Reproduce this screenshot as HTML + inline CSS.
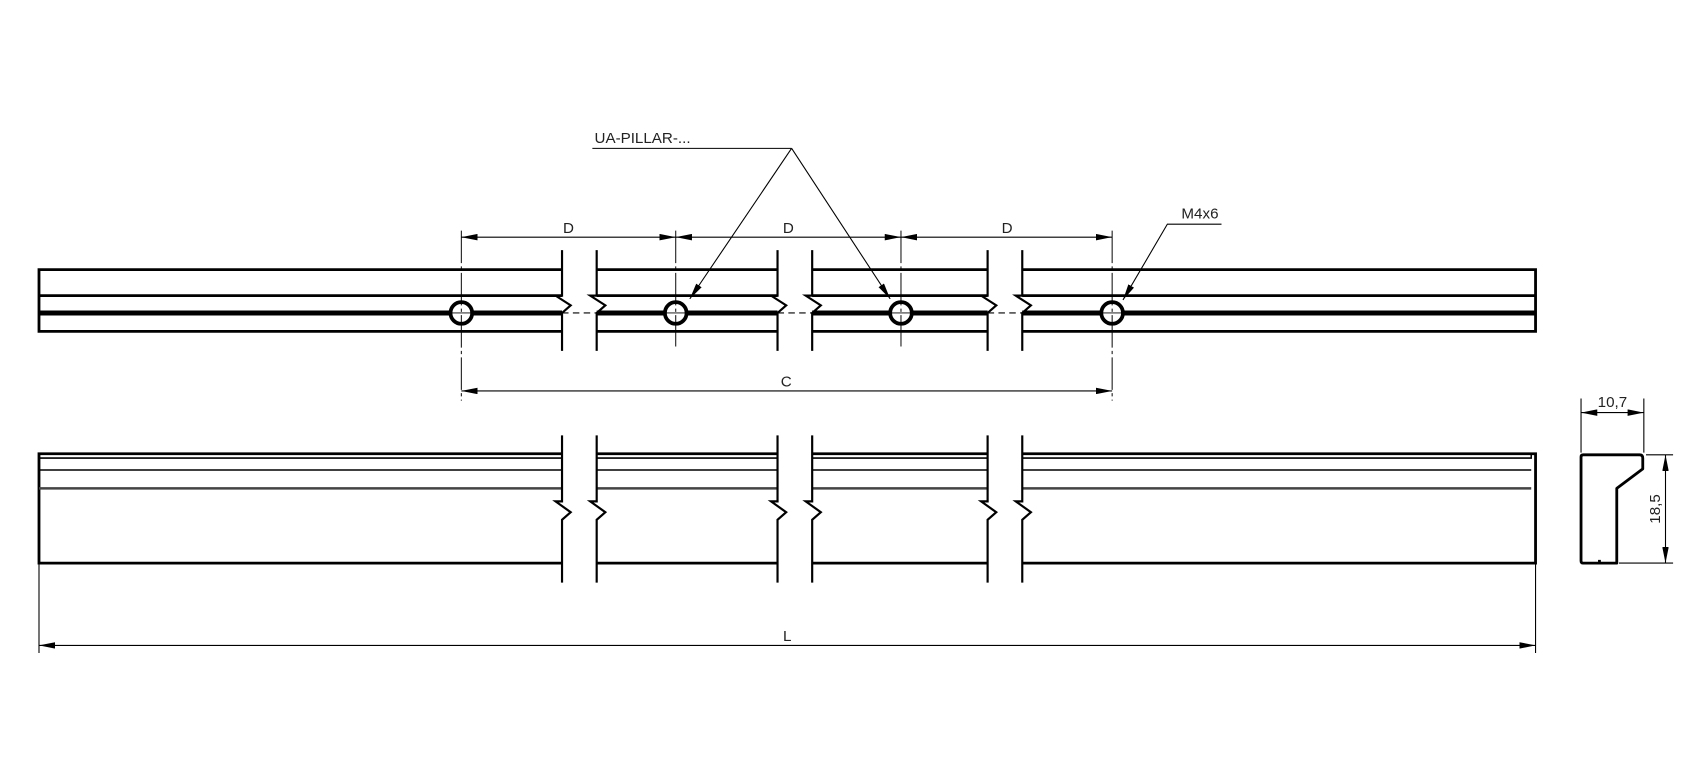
<!DOCTYPE html>
<html><head><meta charset="utf-8"><style>html,body{margin:0;padding:0;background:#fff}svg{display:block}</style></head>
<body>
<svg width="1698" height="776" viewBox="0 0 1568 716.6" xmlns="http://www.w3.org/2000/svg" font-family="Liberation Sans, sans-serif">
<defs>
<marker id="a" viewBox="0 0 10 4" refX="10" refY="2" markerWidth="15" markerHeight="6" markerUnits="userSpaceOnUse" orient="auto-start-reverse"><path d="M0,0 L10,2 L0,4z" fill="#000"/></marker>
</defs>
<g stroke="#000" fill="none">
<g stroke-width="2.6">
<path d="M519,249 H36 V306 H519 M36,273 H519"/>
<path d="M551,249 H718 M551,273 H718 M551,306 H718"/>
<path d="M750,249 H912 M750,273 H912 M750,306 H912"/>
<path d="M944,249 H1418 V306 H944 M944,273 H1418"/>
</g>
<g stroke-width="4.6">
<path d="M36,289 H519 M551,289 H718 M750,289 H912 M944,289 H1418"/>
</g>
<g stroke-width="2">
<path d="M519,231 V273 L513,273 L527,282 L519,289 V324"/>
<path d="M551,231 V273 L545,273 L559,282 L551,289 V324"/>
<path d="M718,231 V273 L712,273 L726,282 L718,289 V324"/>
<path d="M750,231 V273 L744,273 L758,282 L750,289 V324"/>
<path d="M912,231 V273 L906,273 L920,282 L912,289 V324"/>
<path d="M944,231 V273 L938,273 L952,282 L944,289 V324"/>
</g>
<path d="M519,289 H551 M718,289 H750 M912,289 H944" stroke-width="1" stroke-dasharray="6,4"/>
<g stroke-width="3.5" fill="#fff">
<circle cx="426" cy="289" r="10"/><circle cx="624" cy="289" r="10"/><circle cx="832" cy="289" r="10"/><circle cx="1027" cy="289" r="10"/>
</g>
<g stroke-width="0.9" stroke-dasharray="30,3,3,3">
<path d="M426,213 V370 M624,213 V320 M832,213 V320 M1027,213 V370"/>
</g>
<path d="M413,289 H439 M611,289 H637 M819,289 H845 M1014,289 H1040" stroke-width="0.8"/>
<g stroke-width="1">
<path d="M426,219 H624" marker-start="url(#a)" marker-end="url(#a)"/>
<path d="M624,219 H832" marker-start="url(#a)" marker-end="url(#a)"/>
<path d="M832,219 H1027" marker-start="url(#a)" marker-end="url(#a)"/>
<path d="M426,361 H1027" marker-start="url(#a)" marker-end="url(#a)"/>
<path d="M547,137 H731"/>
<path d="M731,137 L637,276" marker-end="url(#a)"/>
<path d="M731,137 L822,276" marker-end="url(#a)"/>
<path d="M1128,207 H1078 L1037,277" marker-end="url(#a)"/>
</g>
<g stroke-width="2.6">
<path d="M519,419 H36 V520 H519 M551,419 H718 M551,520 H718 M750,419 H912 M750,520 H912 M944,419 H1418 V520 H944"/>
</g>
<g stroke-width="1.4">
<path d="M36,423 H519 M36,434 H519 M551,423 H718 M551,434 H718 M750,423 H912 M750,434 H912 M944,423 H1414 V419 M944,434 H1414"/>
</g>
<path d="M36,451 H519 M551,451 H718 M750,451 H912 M944,451 H1414" stroke-width="2.4" stroke="#444"/>
<g stroke-width="2">
<path d="M519,402 V463 L513,463 L527,473 L519,480 V538"/>
<path d="M551,402 V463 L545,463 L559,473 L551,480 V538"/>
<path d="M718,402 V463 L712,463 L726,473 L718,480 V538"/>
<path d="M750,402 V463 L744,463 L758,473 L750,480 V538"/>
<path d="M912,402 V463 L906,463 L920,473 L912,480 V538"/>
<path d="M944,402 V463 L938,463 L952,473 L944,480 V538"/>
</g>
<g stroke-width="1">
<path d="M36,520 V603 M1418,520 V603"/>
<path d="M36,596 H1418" marker-start="url(#a)" marker-end="url(#a)"/>
</g>
<path d="M1462,420 H1514 Q1517,420 1517,423 V433 L1493,451 V520 H1462 Q1460,520 1460,518 V422 Q1460,420 1462,420 Z M1477,520 V517" stroke-width="2.6" stroke-linejoin="round"/>
<g stroke-width="1">
<path d="M1460,418 V368 M1518,418 V368"/>
<path d="M1460,381 H1518" marker-start="url(#a)" marker-end="url(#a)"/>
<path d="M1520,420 H1545 M1495,520 H1545"/>
<path d="M1538,420 V520" marker-start="url(#a)" marker-end="url(#a)"/>
</g>
</g>
<g font-size="14" fill="#222">
<text x="525" y="215" text-anchor="middle">D</text>
<text x="728" y="215" text-anchor="middle">D</text>
<text x="930" y="215" text-anchor="middle">D</text>
<text x="726" y="357" text-anchor="middle">C</text>
<text x="727" y="592" text-anchor="middle">L</text>
<text x="549" y="132">UA-PILLAR-...</text>
<text x="1091" y="202">M4x6</text>
<text x="1489" y="376" text-anchor="middle">10,7</text>
<text transform="translate(1533,470) rotate(-90)" text-anchor="middle">18,5</text>
</g>
</svg>
</body></html>
